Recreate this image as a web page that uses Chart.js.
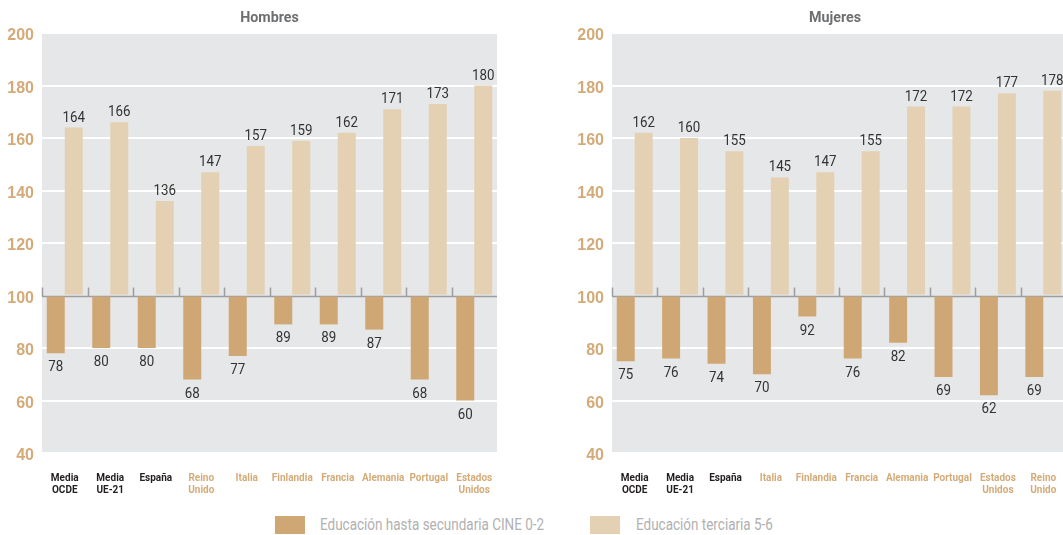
<!DOCTYPE html>
<html>
<head>
<meta charset="utf-8">
<script src="https://cdn.jsdelivr.net/npm/chart.js@4.4.1/dist/chart.umd.min.js"></script>
<style>
  html, body { margin: 0; padding: 0; background: #fff; }
  body { width: 1063px; height: 535px; position: relative; overflow: hidden; font-family: "Roboto", sans-serif; }
  #c1 { position: absolute; left: 0; top: 0; }
  #c2 { position: absolute; left: 530px; top: 0; }
  .sw { position: absolute; width: 30px; height: 18px; top: 516px; }
  .lt { position: absolute; top: 515px; font-size: 16px; line-height: 20px; color: #b1b1b1; white-space: nowrap; transform: scaleX(0.843); transform-origin: 0 50%; }
</style>
</head>
<body>
<canvas id="c1" width="530" height="500"></canvas>
<canvas id="c2" width="540" height="500"></canvas>
<div class="sw" style="left:275px; background:#cfa774;"></div>
<div class="lt" style="left:320px;">Educación hasta secundaria CINE 0-2</div>
<div class="sw" style="left:590px; background:#e4d0b2;"></div>
<div class="lt" style="left:636px;">Educación terciaria 5-6</div>
<script>
// ---- data ----
const seriesNames = ["Educación hasta secundaria CINE 0-2", "Educación terciaria 5-6"];
const yTicks = [40, 60, 80, 100, 120, 140, 160, 180, 200];

const menTitle = "Hombres";
const menCategories = [["Media", "OCDE"], ["Media", "UE-21"], ["España"], ["Reino", "Unido"], ["Italia"], ["Finlandia"], ["Francia"], ["Alemania"], ["Portugal"], ["Estados", "Unidos"]];
const menLow = [78, 80, 80, 68, 77, 89, 89, 87, 68, 60];
const menHigh = [164, 166, 136, 147, 157, 159, 162, 171, 173, 180];

const womenTitle = "Mujeres";
const womenCategories = [["Media", "OCDE"], ["Media", "UE-21"], ["España"], ["Italia"], ["Finlandia"], ["Francia"], ["Alemania"], ["Portugal"], ["Estados", "Unidos"], ["Reino", "Unido"]];
const womenLow = [75, 76, 74, 70, 92, 76, 82, 69, 62, 69];
const womenHigh = [162, 160, 155, 145, 147, 155, 172, 172, 177, 178];

// ---- styles ----
const DARK = "#cfa774", LIGHT = "#e4d0b2", BG = "#e6e7e8", TAN = "#d4ab78", BLACK = "#231f20";
const FONT = '"Roboto", sans-serif';
const WIDE = '"Liberation Sans", "Arial", sans-serif';

function drawScaledText(ctx, text, x, y, sx) {
  ctx.save();
  ctx.translate(x, y);
  ctx.scale(sx, 1);
  ctx.fillText(text, 0, 0);
  ctx.restore();
}

const decorPlugin = {
  id: "decor",
  beforeDraw(chart) {
    const { ctx, chartArea: a } = chart;
    ctx.save();
    ctx.fillStyle = BG;
    ctx.fillRect(a.left, a.top, a.right - a.left, a.bottom - a.top);
    ctx.restore();
  },
  beforeDatasetsDraw(chart) {
    const { ctx, chartArea: a } = chart;
    const y = Math.round(chart.scales.y.getPixelForValue(100)) + 0.5;
    const xs = chart.scales.x;
    const step = xs.getPixelForValue(1) - xs.getPixelForValue(0);
    ctx.save();
    ctx.strokeStyle = "#9d9d9d";
    ctx.lineWidth = 1.5;
    ctx.beginPath();
    ctx.moveTo(a.left, y); ctx.lineTo(a.right, y);
    ctx.stroke();
    ctx.lineWidth = 1.5;
    ctx.beginPath();
    for (let i = 0; i < xs.ticks.length; i++) {
      const bx = Math.round(xs.getPixelForValue(i) - step / 2) + 0.5;
      ctx.moveTo(bx, y); ctx.lineTo(bx, y - 9);
    }
    ctx.stroke();
    ctx.restore();
  },
  afterDatasetsDraw(chart, args, opts) {
    const { ctx } = chart;
    ctx.save();
    ctx.font = "15.5px " + FONT;
    ctx.fillStyle = "#333333";
    ctx.textAlign = "center";
    ctx.textBaseline = "alphabetic";
    chart.data.datasets.forEach((ds, di) => {
      const meta = chart.getDatasetMeta(di);
      meta.data.forEach((el, i) => {
        const v = ds.data[i];
        if (v >= 100) {
          drawScaledText(ctx, String(v), el.x, el.y - 6, 0.86);
        } else {
          drawScaledText(ctx, String(v), el.x, el.y + 18, 0.86);
        }
      });
    });
    const a = chart.chartArea;
    ctx.font = "bold 15px " + FONT;
    ctx.fillStyle = "#6d6e70";
    ctx.textBaseline = "alphabetic";
    drawScaledText(ctx, opts.text, (a.left + a.right) / 2 + opts.dx, 22, 0.95);
    ctx.restore();
  }
};

function makeChart(id, title, cats, low, high, padLeft, padRight, dx) {
  const tickColors = cats.map((c, i) => i < 3 ? BLACK : TAN);
  return new Chart(document.getElementById(id), {
    type: "bar",
    data: {
      labels: cats,
      datasets: [
        { label: seriesNames[0], data: low, base: 100, backgroundColor: DARK, borderWidth: 0 },
        { label: seriesNames[1], data: high, base: 100, backgroundColor: LIGHT, borderWidth: 0 }
      ]
    },
    options: {
      responsive: false,
      animation: false,
      devicePixelRatio: 1,
      layout: { padding: { left: padLeft, right: padRight, top: 33, bottom: 0 } },
      datasets: { bar: { categoryPercentage: 0.791, barPercentage: 1.0 } },
      plugins: {
        legend: { display: false },
        tooltip: { enabled: false },
        title: { display: false },
        decor: { text: title, dx: dx }
      },
      scales: {
        x: {
          grid: { display: false },
          border: { display: false },
          ticks: {
            color: tickColors,
            font: { family: FONT, size: 10, weight: "bold", lineHeight: 1.2 },
            padding: 11,
            maxRotation: 0,
            autoSkip: false
          },
          afterFit(s) { s.height = 47; }
        },
        y: {
          min: 40, max: 200,
          afterBuildTicks(s) { s.ticks = yTicks.map(v => ({ value: v })); },
          grid: {
            color: (c) => (c.tick && c.tick.value === 100) ? "rgba(0,0,0,0)" : "#ffffff",
            lineWidth: 2,
            drawTicks: false
          },
          border: { display: false },
          ticks: {
            color: TAN,
            font: { family: WIDE, size: 16, weight: "bold" },
            padding: 8,
            labelOffset: 3
          },
          afterFit(s) { s.width = 42; }
        }
      }
    },
    plugins: [decorPlugin]
  });
}

makeChart("c1", menTitle, menCategories, menLow, menHigh, 0, 33, 0);
makeChart("c2", womenTitle, womenCategories, womenLow, womenHigh, 40, 4, -4);
</script>
</body>
</html>
